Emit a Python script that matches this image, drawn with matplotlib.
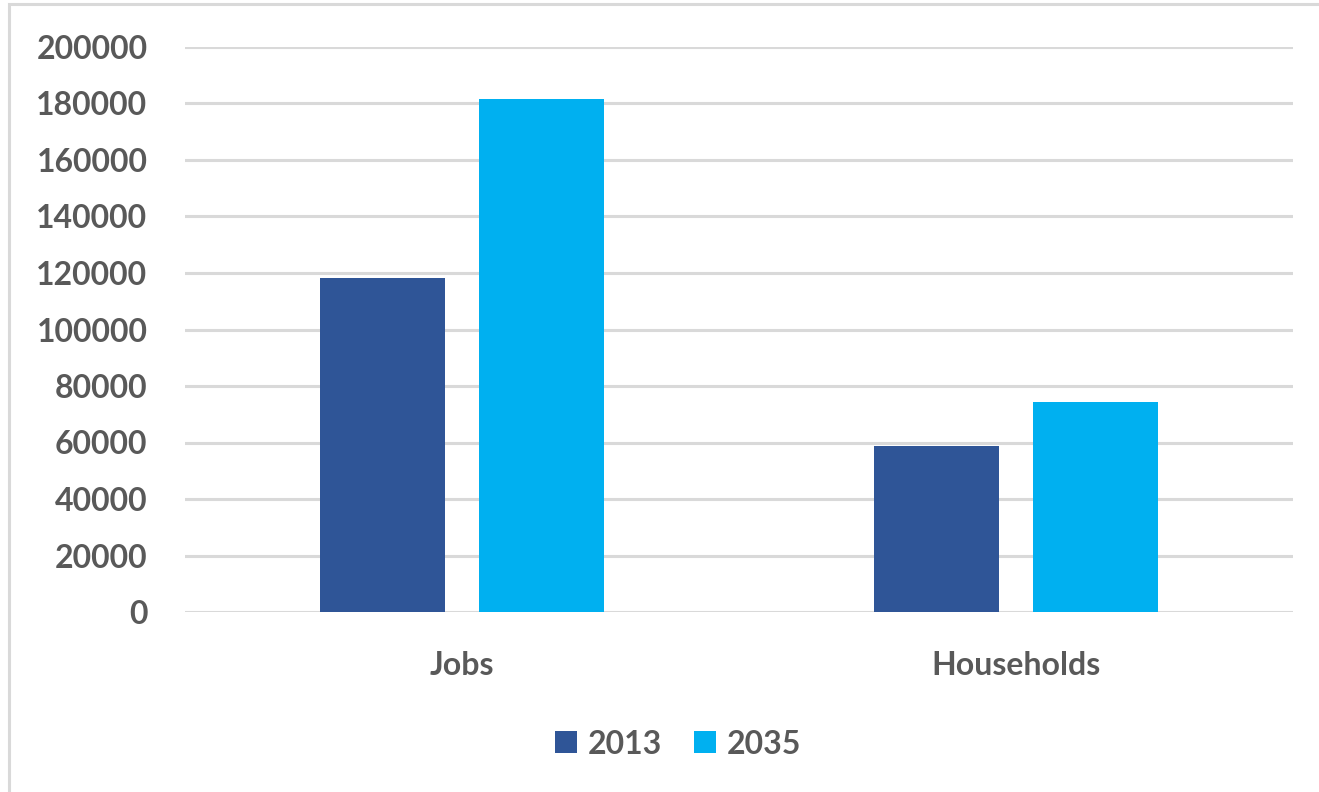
import matplotlib
matplotlib.use("Agg")
import matplotlib.pyplot as plt
import numpy as np
from matplotlib.patches import Rectangle

categories = ["Jobs", "Households"]
series_names = ["2013", "2035"]
values_2013 = [118100, 58900]
values_2035 = [181600, 74400]
yticks = [0, 20000, 40000, 60000, 80000, 100000, 120000, 140000, 160000, 180000, 200000]

W, H = 1319, 792
fig = plt.figure(figsize=(W / 100, H / 100), dpi=100)
fig.patch.set_facecolor("white")

# outer frame
fig.patches.append(Rectangle((9 / W, -0.05), 1.2, 1 - 4 / H + 0.05, transform=fig.transFigure,
                             fill=False, edgecolor="#D9D9D9", linewidth=2.2))

ax = fig.add_axes([185 / W, 1 - 612 / H, (1293 - 185) / W, (612 - 47) / H])
colors = ["#2F5597", "#00B0F0"]
x = np.arange(len(categories))
bw = 0.2256
gap = 0.06
ax.bar(x - (bw + gap) / 2, values_2013, bw, color=colors[0], label=series_names[0], zorder=3)
ax.bar(x + (bw + gap) / 2, values_2035, bw, color=colors[1], label=series_names[1], zorder=3)

ax.set_xlim(-0.5, 1.5)
ax.set_ylim(0, 200000)
ax.set_yticks(yticks)
ax.set_yticklabels([str(v) for v in yticks])
ax.set_xticks(x)
ax.set_xticklabels(categories)
ax.yaxis.grid(True, color="#D9D9D9", linewidth=2.2, zorder=0)
ax.set_axisbelow(True)
for s in ax.spines.values():
    s.set_visible(False)
ax.tick_params(axis="both", length=0, labelcolor="#595959")
ax.tick_params(axis="y", pad=27)
ax.tick_params(axis="x", pad=28)
for lbl in ax.get_yticklabels() + ax.get_xticklabels():
    lbl.set_fontfamily("Lato")
    lbl.set_fontweight("bold")
    lbl.set_fontsize(23)

leg = fig.legend(loc="center", bbox_to_anchor=(678 / W, 1 - 744 / H), ncol=2, frameon=False,
                 prop={"family": "Lato", "weight": "bold", "size": 23},
                 handlelength=0.68, handleheight=0.68, handletextpad=0.35, columnspacing=1.0)
for t in leg.get_texts():
    t.set_color("#595959")

fig.savefig("out.png", dpi=100, facecolor="white")
